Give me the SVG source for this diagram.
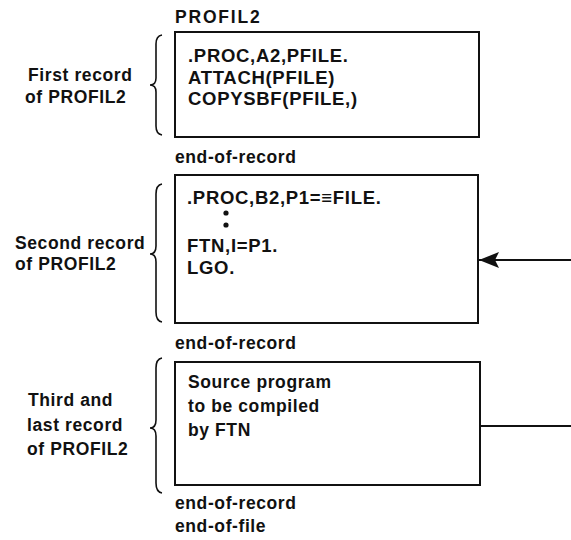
<svg xmlns="http://www.w3.org/2000/svg" width="571" height="540" viewBox="0 0 571 540">
<style>
  text { font-family: "Liberation Sans", Arial, sans-serif; font-weight: bold; font-size: 17.5px; fill: #111; letter-spacing: 0.6px; }
  .code { font-size: 18.5px; letter-spacing: 0.7px; }
  .box { fill: none; stroke: #111; stroke-width: 2; }
  .brace { fill: none; stroke: #111; stroke-width: 1.6; }
  .conn { fill: none; stroke: #111; stroke-width: 2; }
</style>
<defs>
  <marker id="arrow" viewBox="0 0 20 16" refX="20" refY="8" markerWidth="20" markerHeight="16" markerUnits="userSpaceOnUse" orient="auto">
    <path d="M0,0 L20,8 L0,16 L4,8 Z" fill="#111"/>
  </marker>
</defs>
<rect width="571" height="540" fill="#fff"/>

<g id="record1">
  <text x="175" y="23" style="letter-spacing:1.8px">PROFIL2</text>
  <rect class="box" x="175" y="32" width="304" height="105"/>
  <text class="code" x="188" y="62">.PROC,A2,PFILE.</text>
  <text class="code" x="188" y="84">ATTACH(PFILE)</text>
  <text class="code" x="188" y="105">COPYSBF(PFILE,)</text>
  <text x="175" y="163">end-of-record</text>
  <path class="brace" d="M162,35 Q156,36 156,44 L156,78 Q156,85 150,85 Q156,85 156,92 L156,126 Q156,134 162,135"/>
  <text x="28" y="81">First record</text>
  <text x="25" y="103">of PROFIL2</text>
</g>

<g id="record2">
  <rect class="box" x="175" y="175" width="303" height="148"/>
  <text class="code" x="187" y="204">.PROC,B2,P1=≡FILE.</text>
  <circle cx="226" cy="213" r="2.6" fill="#111"/>
  <circle cx="226" cy="225" r="2.6" fill="#111"/>
  <text class="code" x="187" y="252">FTN,I=P1.</text>
  <text class="code" x="187" y="274">LGO.</text>
  <text x="175" y="349">end-of-record</text>
  <path class="brace" d="M162,184 Q156,185 156,194 L156,246 Q156,254 150,254 Q156,254 156,262 L156,312 Q156,321 162,322"/>
  <text x="15" y="249">Second record</text>
  <text x="15" y="270">of PROFIL2</text>
</g>

<g id="record3">
  <rect class="box" x="175" y="362" width="305" height="123"/>
  <text x="188" y="388">Source program</text>
  <text x="188" y="412">to be compiled</text>
  <text x="188" y="436">by FTN</text>
  <text x="175" y="509">end-of-record</text>
  <text x="175" y="532">end-of-file</text>
  <path class="brace" d="M162,358 Q156,359 156,368 L156,420 Q156,428 150,428 Q156,428 156,436 L156,483 Q156,492 162,493"/>
  <text x="28" y="406">Third and</text>
  <text x="27" y="431">last record</text>
  <text x="27" y="455">of PROFIL2</text>
</g>

<g id="connectors">
  <line class="conn" x1="571" y1="260" x2="479" y2="260" marker-end="url(#arrow)"/>
  <line class="conn" x1="480" y1="426" x2="571" y2="426"/>
</g>
</svg>
